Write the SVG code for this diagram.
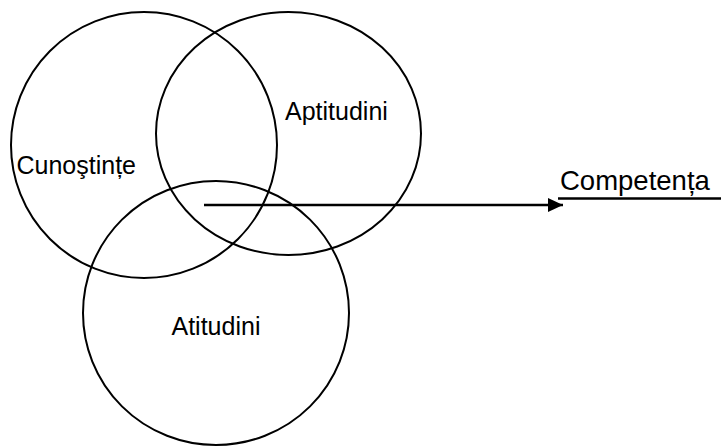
<svg xmlns="http://www.w3.org/2000/svg" width="721" height="447" viewBox="0 0 721 447">
<style>
.c{fill:none;stroke:#000;stroke-width:2}
.t{font-family:"Liberation Sans",Arial,sans-serif;font-size:25px;fill:#000}
.e{stroke:#000;stroke-width:2.4;fill:none}
</style>
<defs>
<marker id="ah" viewBox="0 0 15 14" refX="15" refY="7" markerWidth="15" markerHeight="14" markerUnits="userSpaceOnUse" orient="auto">
<path d="M0,0 L15,7 L0,14 Z" fill="#000"/>
</marker>
</defs>
<rect width="721" height="447" fill="#fff"/>
<g id="cunostinte">
<ellipse class="c" cx="144" cy="145" rx="133" ry="133"/>
<text class="t" x="16.5" y="173.5">Cunoştințe</text>
</g>
<g id="aptitudini">
<ellipse class="c" cx="288.5" cy="133.5" rx="132.5" ry="121.5"/>
<text class="t" x="285" y="120">Aptitudini</text>
</g>
<g id="atitudini">
<ellipse class="c" cx="216" cy="313" rx="133" ry="132"/>
<text class="t" x="171.5" y="335">Atitudini</text>
</g>
<g id="connectors">
<line class="e" x1="204" y1="205" x2="563" y2="205" marker-end="url(#ah)"/>
</g>
<g id="competenta">
<text class="t" x="560" y="190" style="font-size:27.5px">Competența</text>
<line x1="558" y1="198.5" x2="721" y2="198.5" stroke="#000" stroke-width="2.5"/>
</g>
</svg>
